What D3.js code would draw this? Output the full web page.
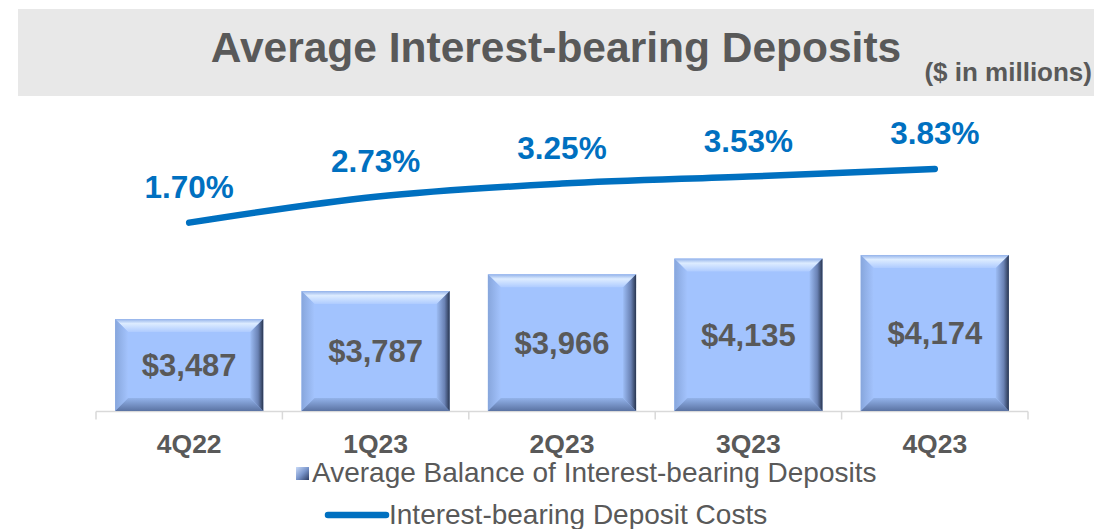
<!DOCTYPE html>
<html>
<head>
<meta charset="utf-8">
<script src="https://cdn.jsdelivr.net/npm/d3@7/dist/d3.min.js"></script>
<style>
  html, body { margin: 0; padding: 0; background: #fff; }
  svg { display: block; font-family: Arial, 'Liberation Sans', sans-serif; }
</style>
</head>
<body>
<svg id="chart"></svg>
<script>
// data
const quarters = ['4Q22', '1Q23', '2Q23', '3Q23', '4Q23'];
const balances = [3487, 3787, 3966, 4135, 4174];
const costs = [1.70, 2.73, 3.25, 3.53, 3.83];

const W = 1094, H = 529;
const TEXT_GRAY = '#595959';
const BLUE = '#0070C0';
const BEVEL = 13;

const svg = d3.select('#chart').attr('width', W).attr('height', H);
const defs = svg.append('defs');

// gradients for the bevelled bars
function grad(id, x2, y2, stops) {
    const g = defs.append('linearGradient').attr('id', id)
        .attr('x1', 0).attr('y1', 0).attr('x2', x2).attr('y2', y2);
    stops.forEach(s => g.append('stop').attr('offset', s[0]).attr('stop-color', s[1]));
}
grad('gTop', 0, 1, [[0, '#93B2EA'], [0.35, '#DDECFF'], [1, '#AECBFF']]);
grad('gLeft', 1, 0, [[0, '#87A6DC'], [1, '#A3C3FD']]);
grad('gRight', 1, 0, [[0, '#9CBCF4'], [0.6, '#6A82B4'], [1, '#28354F']]);
grad('gBottom', 0, 1, [[0, '#93B3EA'], [1, '#5B73A3']]);
grad('gIcon', 1, 1, [[0, '#C9DAF8'], [0.5, '#7A96CC'], [1, '#2E3E63']]);

// title band
svg.append('rect').attr('x', 18).attr('y', 9).attr('width', W - 18).attr('height', 87)
    .attr('fill', '#E8E8E8');
svg.append('text').attr('x', 556).attr('y', 62).attr('text-anchor', 'middle')
    .attr('font-size', 42.5).attr('font-weight', 'bold').attr('fill', TEXT_GRAY)
    .text('Average Interest-bearing Deposits');
svg.append('text').attr('x', 1092).attr('y', 81).attr('text-anchor', 'end')
    .attr('font-size', 26).attr('font-weight', 'bold').attr('fill', TEXT_GRAY)
    .text('($ in millions)');

// scales
const x = d3.scaleBand().domain(quarters).range([96, 1028]).padding(0);
const barW = x.bandwidth() * 0.795;
const y = d3.scaleLinear().domain([2500, 4500]).range([411, 411 - 2000 * 0.0932]);
const y2 = d3.scaleLinear().domain([0, 5]).range([265.5, 139.5]);

// category axis
const axis = svg.append('g').attr('transform', 'translate(0,411.5)');
axis.append('line').attr('x1', 96).attr('x2', 1028).attr('stroke', '#D9D9D9').attr('stroke-width', 1.5);
axis.selectAll('line.tick').data(quarters.concat(['end'])).enter().append('line')
    .attr('class', 'tick')
    .attr('x1', (d, i) => 96 + i * x.step()).attr('x2', (d, i) => 96 + i * x.step())
    .attr('y1', 0).attr('y2', 8)
    .attr('stroke', '#D9D9D9').attr('stroke-width', 1.5);
axis.selectAll('text').data(quarters).enter().append('text')
    .attr('x', d => x(d) + x.bandwidth() / 2).attr('y', 41)
    .attr('text-anchor', 'middle').attr('font-size', 26.5).attr('font-weight', 'bold')
    .attr('fill', TEXT_GRAY).text(d => d);

// bevelled bars
svg.selectAll('g.bar').data(balances).enter().append('g').attr('class', 'bar')
    .each(function (d, i) {
        const g = d3.select(this);
        const x0 = x(quarters[i]) + (x.bandwidth() - barW) / 2, x1 = x0 + barW;
        const y0 = y(d), y1 = y(2500);
        const b = BEVEL;
        g.append('rect').attr('x', x0).attr('y', y0).attr('width', barW).attr('height', y1 - y0)
            .attr('fill', '#A2C3FE');
        const poly = (pts, fill) => g.append('polygon')
            .attr('points', pts.map(p => p.join(',')).join(' ')).attr('fill', fill);
        poly([[x0, y0], [x1, y0], [x1 - b, y0 + b], [x0 + b, y0 + b]], 'url(#gTop)');
        poly([[x0, y0], [x0 + b, y0 + b], [x0 + b, y1 - b], [x0, y1]], 'url(#gLeft)');
        poly([[x0, y1], [x1, y1], [x1 - b, y1 - b], [x0 + b, y1 - b]], 'url(#gBottom)');
        poly([[x1, y0], [x1, y1], [x1 - b, y1 - b], [x1 - b, y0 + b]], 'url(#gRight)');
        g.append('text').attr('x', (x0 + x1) / 2).attr('y', (y0 + y1) / 2).attr('dy', '0.36em')
            .attr('text-anchor', 'middle').attr('font-size', 31).attr('font-weight', 'bold')
            .attr('fill', TEXT_GRAY).text('$' + d3.format(',')(d));
    });

// deposit cost line (smoothed like the spreadsheet line)
const cx = (d, i) => x(quarters[i]) + x.bandwidth() / 2;
const line = d3.line().x(cx).y(d => y2(d)).curve(d3.curveCardinal.tension(0));
svg.append('path').datum(costs).attr('d', line)
    .attr('fill', 'none').attr('stroke', BLUE).attr('stroke-width', 6.5)
    .attr('stroke-linecap', 'round');
svg.selectAll('text.pct').data(costs).enter().append('text').attr('class', 'pct')
    .attr('x', cx).attr('y', d => y2(d) - 25)
    .attr('text-anchor', 'middle').attr('font-size', 31.5).attr('font-weight', 'bold')
    .attr('fill', BLUE).text(d => d.toFixed(2) + '%');

// legend
svg.append('rect').attr('x', 296).attr('y', 467).attr('width', 13).attr('height', 13)
    .attr('fill', 'url(#gIcon)');
svg.append('text').attr('x', 312).attr('y', 482).attr('font-size', 28).attr('fill', TEXT_GRAY)
    .text('Average Balance of Interest-bearing Deposits');
svg.append('line').attr('x1', 328).attr('x2', 386).attr('y1', 515).attr('y2', 515)
    .attr('stroke', BLUE).attr('stroke-width', 6.5).attr('stroke-linecap', 'round');
svg.append('text').attr('x', 389).attr('y', 524).attr('font-size', 28).attr('fill', TEXT_GRAY)
    .text('Interest-bearing Deposit Costs');
</script>
</body>
</html>
